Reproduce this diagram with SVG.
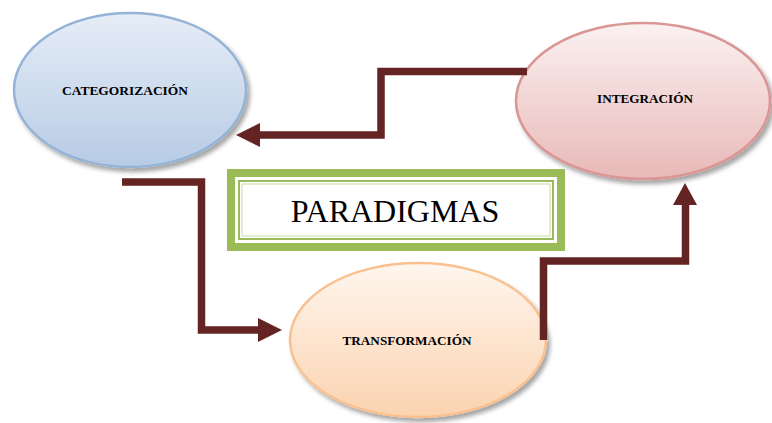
<svg xmlns="http://www.w3.org/2000/svg" width="772" height="423" viewBox="0 0 772 423">
<defs>
<linearGradient id="gBlue" x1="0" y1="0" x2="0" y2="1"><stop offset="0" stop-color="#e6edf7"/><stop offset="1" stop-color="#b7cbe5"/></linearGradient>
<linearGradient id="gPink" x1="0" y1="0" x2="0" y2="1"><stop offset="0" stop-color="#fbf1f1"/><stop offset="1" stop-color="#e8b9b8"/></linearGradient>
<linearGradient id="gPeach" x1="0" y1="0" x2="0" y2="1"><stop offset="0" stop-color="#fff6ee"/><stop offset="1" stop-color="#fbd3b0"/></linearGradient>
<filter id="sh" x="-10%" y="-10%" width="125%" height="130%"><feDropShadow dx="3" dy="4" stdDeviation="2" flood-color="#000" flood-opacity="0.35"/></filter>
</defs>
<style>
.lbl{font-family:"Liberation Serif","Times New Roman",serif;font-weight:bold;font-size:13px;fill:#000;text-anchor:middle}
.conn{fill:none;stroke:#642423;stroke-width:7.5;stroke-linejoin:miter}
.head{fill:#642423}
</style>
<rect width="772" height="423" fill="#fff"/>
<g id="categorizacion">
<ellipse cx="130" cy="90" rx="116" ry="77" fill="url(#gBlue)" stroke="#95b3d7" stroke-width="2.5" filter="url(#sh)"/>
<text class="lbl" x="125" y="95" textLength="126" lengthAdjust="spacingAndGlyphs">CATEGORIZACIÓN</text>
</g>
<g id="integracion">
<ellipse cx="643" cy="101" rx="127" ry="78" fill="url(#gPink)" stroke="#d99694" stroke-width="2.5" filter="url(#sh)"/>
<text class="lbl" x="645" y="103" textLength="96" lengthAdjust="spacingAndGlyphs">INTEGRACIÓN</text>
</g>
<g id="transformacion">
<ellipse cx="418" cy="340" rx="128" ry="77" fill="url(#gPeach)" stroke="#fac08f" stroke-width="2.5" filter="url(#sh)"/>
<text class="lbl" x="407" y="345" textLength="129" lengthAdjust="spacingAndGlyphs">TRANSFORMACIÓN</text>
</g>
<g id="paradigmas">
<rect x="231" y="173" width="330" height="74" fill="#fff" stroke="#9bbb59" stroke-width="8"/>
<rect x="239" y="181" width="314" height="58" fill="none" stroke="#9bbb59" stroke-width="2"/>
<rect x="242" y="184" width="308" height="52" fill="none" stroke="#c5d9a0" stroke-width="1"/>
<text x="395" y="222" font-family="'Liberation Serif','Times New Roman',serif" font-size="32" text-anchor="middle" fill="#000">PARADIGMAS</text>
</g>
<g id="connectors">
<polyline class="conn" points="527,71.5 381,71.5 381,135 258,135"/>
<polygon class="head" points="260,123 260,147 236,135"/>
<polyline class="conn" points="122,182 201.5,182 201.5,330 260,330"/>
<polygon class="head" points="258,318 258,342 282,330"/>
<polyline class="conn" points="543.5,340 543.5,261 685.5,261 685.5,203"/>
<polygon class="head" points="673,205 697,205 685,183"/>
</g>
</svg>
